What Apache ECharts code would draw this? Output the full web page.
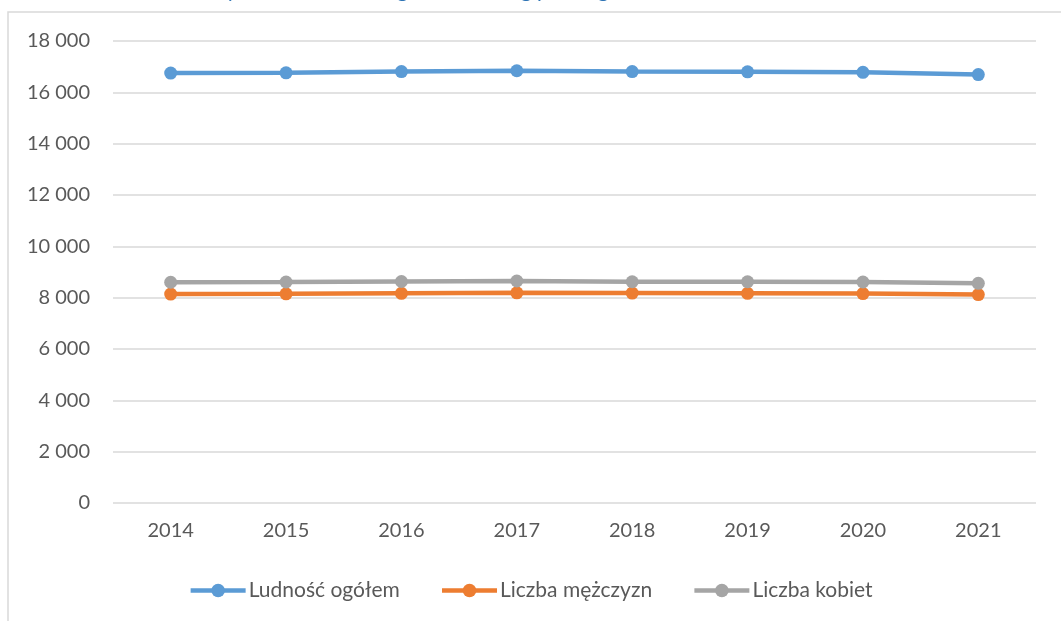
<!DOCTYPE html>
<html>
<head>
<meta charset="utf-8">
<script src="https://cdn.jsdelivr.net/npm/echarts@6/dist/echarts.min.js"></script>
<style>
  html, body { margin: 0; padding: 0; background: #fff; }
  #chart { width: 1061px; height: 621px; }
</style>
</head>
<body>
<div id="chart"></div>
<script>
// lata
var years = ["2014", "2015", "2016", "2017", "2018", "2019", "2020", "2021"];
// wartości
var ludnoscOgolem = [16750, 16760, 16810, 16840, 16810, 16800, 16780, 16690];
var liczbaMezczyzn = [8140, 8150, 8170, 8190, 8180, 8170, 8160, 8120];
var liczbaKobiet = [8600, 8610, 8630, 8650, 8620, 8620, 8610, 8560];
var yTicks = [0, 2000, 4000, 6000, 8000, 10000, 12000, 14000, 16000, 18000];

var chart = echarts.init(document.getElementById("chart"));

function fmt(v) {
  return String(v).replace(/\B(?=(\d{3})+(?!\d))/g, " ");
}

function lineSeries(name, data, color) {
  return {
    name: name,
    type: "line",
    data: data,
    symbol: "circle",
    symbolSize: 13,
    lineStyle: { color: color, width: 4.5 },
    itemStyle: { color: color },
    z: 3
  };
}

chart.setOption({
  animation: false,
  textStyle: { fontFamily: "Lato" },
  title: {
    text: "Wykres 1. Ludność ogółem oraz wg płci w gminie w latach 2014–2021",
    left: "center",
    top: -25,
    textStyle: { color: "#2e74b5", fontSize: 21, fontWeight: "normal", fontFamily: "Lato" }
  },
  graphic: [{
    type: "rect",
    shape: { x: 8, y: 12, width: 1100, height: 700 },
    style: { fill: "none", stroke: "#d9d9d9", lineWidth: 1.5 },
    silent: true
  }],
  legend: {
    top: 575,
    left: "center",
    itemWidth: 55,
    itemHeight: 17,
    itemGap: 40,
    lineStyle: { width: 4.5 },
    textStyle: { color: "#595959", fontSize: 21, fontFamily: "Lato", padding: [0, 0, 0, -2] },
    data: ["Ludność ogółem", "Liczba mężczyzn", "Liczba kobiet"]
  },
  grid: { left: 113, right: 25, top: 41, bottom: 118, containLabel: false },
  xAxis: {
    type: "category",
    data: years,
    boundaryGap: true,
    axisLine: { show: false },
    axisTick: { show: false },
    axisLabel: { color: "#595959", fontSize: 20, margin: 18 }
  },
  yAxis: {
    type: "value",
    min: yTicks[0],
    max: yTicks[yTicks.length - 1],
    interval: 2000,
    axisLine: { show: false },
    axisTick: { show: false },
    splitLine: { lineStyle: { color: "#d9d9d9", width: 1.5 } },
    axisLabel: { color: "#595959", fontSize: 20, margin: 23, formatter: fmt }
  },
  series: [
    lineSeries("Ludność ogółem", ludnoscOgolem, "#5b9bd5"),
    lineSeries("Liczba mężczyzn", liczbaMezczyzn, "#ed7d31"),
    lineSeries("Liczba kobiet", liczbaKobiet, "#a5a5a5")
  ]
});
</script>
</body>
</html>
